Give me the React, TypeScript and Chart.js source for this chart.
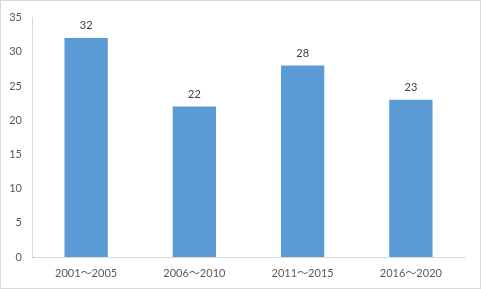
import React, { useEffect, useRef } from "react";
import { Chart, registerables } from "chart.js";

Chart.register(...registerables);

const categories = ["2001～2005", "2006～2010", "2011～2015", "2016～2020"];
const values = [32, 22, 28, 23];
const yTicks = [0, 5, 10, 15, 20, 25, 30, 35];

const FONT = "Lato, 'Noto Sans CJK SC', sans-serif";

const valueLabels = {
  id: "valueLabels",
  afterDatasetsDraw(chart: any) {
    const ctx = chart.ctx;
    const meta = chart.getDatasetMeta(0);
    ctx.save();
    ctx.fillStyle = "#404040";
    ctx.font = `11px ${FONT}`;
    ctx.textAlign = "center";
    ctx.textBaseline = "bottom";
    meta.data.forEach((bar: any, i: number) => {
      ctx.fillText(String(values[i]), bar.x, bar.y - 7);
    });
    ctx.restore();
  },
};

export default function App() {
  const ref = useRef<HTMLCanvasElement>(null);
  useEffect(() => {
    const chart = new Chart(ref.current!, {
      type: "bar",
      data: {
        labels: categories,
        datasets: [
          {
            data: values,
            backgroundColor: "#5b9bd5",
            categoryPercentage: 1,
            barPercentage: 0.4,
          },
        ],
      },
      options: {
        animation: false,
        responsive: false,
        layout: { padding: { top: 14, right: 15, left: 0, bottom: 0 } },
        plugins: { legend: { display: false }, tooltip: { enabled: false } },
        scales: {
          x: {
            grid: { display: false, drawTicks: false },
            border: { color: "#d9d9d9" },
            ticks: { color: "#595959", font: { size: 11, family: FONT }, padding: 10 },
            afterFit: (s: any) => {
              s.height = 31;
            },
          },
          y: {
            min: 0,
            max: 35,
            grid: { display: false, drawTicks: false },
            border: { color: "#d9d9d9" },
            afterBuildTicks: (s: any) => {
              s.ticks = yTicks.map((v) => ({ value: v }));
            },
            ticks: { color: "#595959", font: { size: 11, family: FONT }, padding: 10 },
            afterFit: (s: any) => {
              s.width = 31;
            },
          },
        },
      },
      plugins: [valueLabels],
    });
    return () => chart.destroy();
  }, []);
  return (
    <div
      style={{
        position: "fixed",
        left: 0,
        top: 0,
        width: 481,
        height: 289,
        boxSizing: "border-box",
        border: "1px solid #d9d9d9",
        background: "#fff",
      }}
    >
      <canvas ref={ref} width={479} height={287} style={{ display: "block" }} />
    </div>
  );
}
